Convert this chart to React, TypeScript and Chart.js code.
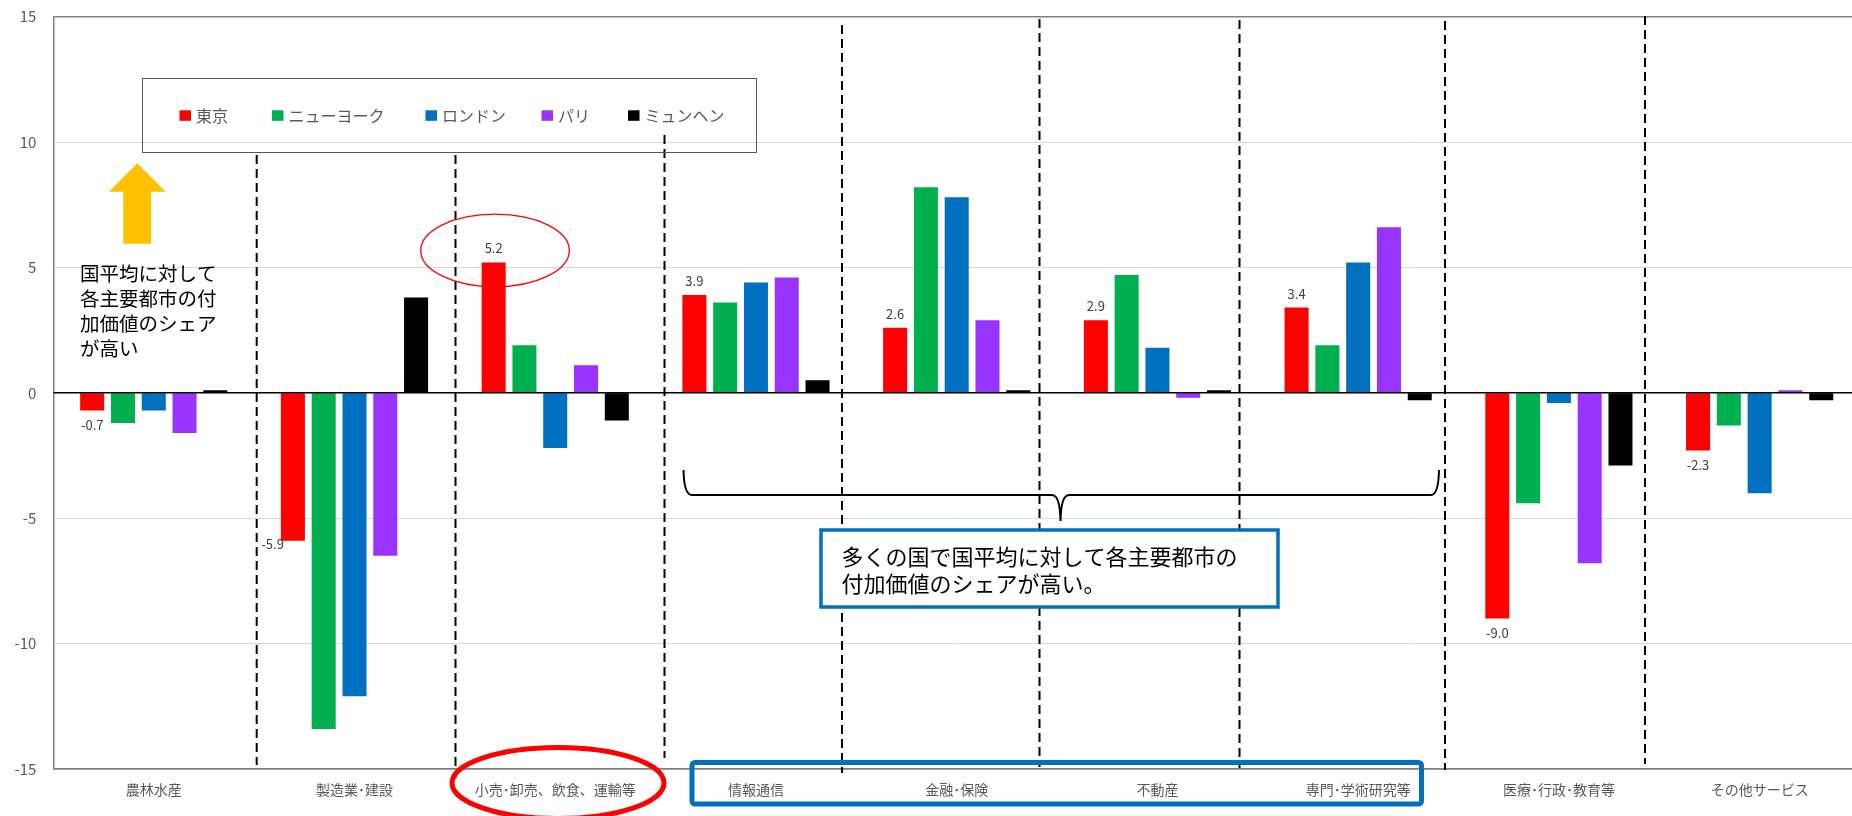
import React, { useEffect, useRef } from 'react';
import { Chart, registerables } from 'chart.js';

Chart.register(...registerables);

const FONT = '"Noto Sans CJK JP", "Noto Sans", sans-serif';

const categories = [
  '農林水産',
  '製造業･建設',
  '小売･卸売、飲食、運輸等',
  '情報通信',
  '金融･保険',
  '不動産',
  '専門･学術研究等',
  '医療･行政･教育等',
  'その他サービス',
];

const seriesNames = ['東京', 'ニューヨーク', 'ロンドン', 'パリ', 'ミュンヘン'];
const seriesColors = ['#FF0000', '#00B050', '#0070C0', '#9933FF', '#000000'];

const tokyo = [-0.7, -5.9, 5.2, 3.9, 2.6, 2.9, 3.4, -9.0, -2.3];
const newYork = [-1.2, -13.4, 1.9, 3.6, 8.2, 4.7, 1.9, -4.4, -1.3];
const london = [-0.7, -12.1, -2.2, 4.4, 7.8, 1.8, 5.2, -0.4, -4.0];
const paris = [-1.6, -6.5, 1.1, 4.6, 2.9, -0.2, 6.6, -6.8, 0.1];
const munich = [0.1, 3.8, -1.1, 0.5, 0.1, 0.1, -0.3, -2.9, -0.3];

const yMin = -15;
const yMax = 15;
const yStep = 5;

// where each Tokyo value label sits relative to its bar
const tokyoLabelPlacement = ['below', 'left', 'above', 'above', 'above', 'above', 'above', 'below', 'below'];

const leftNote = ['国平均に対して', '各主要都市の付', '加価値のシェア', 'が高い'];
const boxNote = ['多くの国で国平均に対して各主要都市の', '付加価値のシェアが高い。'];

// decoration layout (pixels)
const dividers: [number, number, number][] = [
  [256.7, 155, 765],
  [455.5, 155, 778],
  [664.5, 135, 758],
  [842, 25, 773],
  [1039.5, 19, 767],
  [1239.5, 20, 768],
  [1445, 21, 770],
  [1645, 16, 764],
];
const legendMarkerX = [179.5, 272, 425.5, 541.5, 628];

const decorPlugin = {
  id: 'decor',
  afterDatasetsDraw(chart: any) {
    const ctx: CanvasRenderingContext2D = chart.ctx;
    const area = chart.chartArea;
    const ys = chart.scales.y;
    ctx.save();

    // zero axis line
    const y0 = ys.getPixelForValue(0);
    ctx.strokeStyle = '#000000';
    ctx.lineWidth = 1.5;
    ctx.beginPath();
    ctx.moveTo(area.left, y0);
    ctx.lineTo(area.right, y0);
    ctx.stroke();

    // dashed dividers
    ctx.setLineDash([9, 5]);
    ctx.lineWidth = 2;
    ctx.strokeStyle = '#000000';
    dividers.forEach(([px, t, b]) => {
      ctx.beginPath();
      ctx.moveTo(px, t);
      ctx.lineTo(px, b);
      ctx.stroke();
    });
    ctx.setLineDash([]);

    // Tokyo value labels
    const meta = chart.getDatasetMeta(0);
    ctx.font = `13px ${FONT}`;
    ctx.fillStyle = '#404040';
    ctx.textBaseline = 'middle';
    meta.data.forEach((bar: any, i: number) => {
      const v = tokyo[i];
      const txt = v.toFixed(1);
      const place = tokyoLabelPlacement[i];
      if (place === 'left') {
        ctx.textAlign = 'right';
        ctx.fillText(txt, bar.x - bar.width / 2 + 3, bar.y + 3);
      } else if (place === 'above') {
        ctx.textAlign = 'center';
        ctx.fillText(txt, bar.x, bar.y - 14);
      } else {
        ctx.textAlign = 'center';
        ctx.fillText(txt, bar.x, bar.y + 15);
      }
    });

    // legend (in-plot, transparent box)
    ctx.strokeStyle = '#595959';
    ctx.lineWidth = 1;
    ctx.strokeRect(142.5, 78.5, 614, 74);
    ctx.font = `16px ${FONT}`;
    ctx.textAlign = 'left';
    ctx.textBaseline = 'middle';
    seriesNames.forEach((name, i) => {
      const mx = legendMarkerX[i];
      ctx.fillStyle = seriesColors[i];
      ctx.fillRect(mx, 110.3, 11.5, 10.5);
      ctx.fillStyle = '#595959';
      ctx.fillText(name, mx + 16.5, 116);
    });

    // yellow up arrow
    ctx.fillStyle = '#FFC000';
    ctx.beginPath();
    ctx.moveTo(137.3, 163.3);
    ctx.lineTo(165.7, 191.7);
    ctx.lineTo(151, 191.7);
    ctx.lineTo(151, 243.7);
    ctx.lineTo(123.3, 243.7);
    ctx.lineTo(123.3, 191.7);
    ctx.lineTo(109, 191.7);
    ctx.closePath();
    ctx.fill();

    // left note
    ctx.fillStyle = '#000000';
    ctx.font = `19.5px ${FONT}`;
    ctx.textAlign = 'left';
    leftNote.forEach((line, i) => ctx.fillText(line, 80, 274 + i * 24.8));

    // thin red ellipse around 5.2
    ctx.strokeStyle = '#FF0000';
    ctx.lineWidth = 1.3;
    ctx.beginPath();
    ctx.ellipse(495, 250.5, 74.3, 36.3, 0, 0, Math.PI * 2);
    ctx.stroke();

    // thick red ellipse around retail label
    ctx.lineWidth = 5;
    ctx.beginPath();
    ctx.ellipse(558, 783, 106, 35.5, 0, 0, Math.PI * 2);
    ctx.stroke();

    // blue rectangle around labels
    ctx.strokeStyle = '#0070C0';
    ctx.lineWidth = 5;
    ctx.beginPath();
    (ctx as any).roundRect(692, 762.5, 729.5, 41.5, 3);
    ctx.stroke();

    // curly brace
    ctx.strokeStyle = '#000000';
    ctx.lineWidth = 2;
    ctx.beginPath();
    ctx.moveTo(683.5, 470);
    ctx.quadraticCurveTo(684, 495, 692, 495);
    ctx.lineTo(1052, 495);
    ctx.quadraticCurveTo(1060, 495, 1060.5, 521);
    ctx.quadraticCurveTo(1061, 495, 1069, 495);
    ctx.lineTo(1431, 495);
    ctx.quadraticCurveTo(1438.5, 495, 1439, 470);
    ctx.stroke();

    // blue text box
    ctx.fillStyle = '#FFFFFF';
    ctx.fillRect(821, 530, 457, 77);
    ctx.strokeStyle = '#0070C0';
    ctx.lineWidth = 3.5;
    ctx.strokeRect(821, 530, 457, 77);
    ctx.fillStyle = '#000000';
    ctx.font = `22px ${FONT}`;
    ctx.textAlign = 'left';
    ctx.textBaseline = 'middle';
    boxNote.forEach((line, i) => ctx.fillText(line, 841.5, 557 + i * 26.6));

    ctx.restore();
  },
};

export default function App() {
  const canvasRef = useRef<HTMLCanvasElement | null>(null);

  useEffect(() => {
    document.body.style.overflow = 'hidden';
    const canvas = canvasRef.current;
    if (!canvas) return;
    const seriesData = [tokyo, newYork, london, paris, munich];
    const chart = new Chart(canvas, {
      type: 'bar',
      data: {
        labels: categories,
        datasets: seriesNames.map((name, i) => ({
          label: name,
          data: seriesData[i],
          backgroundColor: seriesColors[i],
          borderWidth: 0,
          categoryPercentage: 0.767,
          barPercentage: 0.78,
        })),
      },
      options: {
        animation: false,
        responsive: true,
        maintainAspectRatio: false,
        layout: { padding: { top: 16.7, left: 0, right: 0, bottom: 0 } },
        plugins: {
          legend: { display: false },
          tooltip: { enabled: false },
        },
        scales: {
          x: {
            grid: { display: false, drawTicks: false },
            border: { display: true, color: '#808080', width: 1.5 },
            ticks: {
              color: '#595959',
              font: { size: 14, family: FONT },
              padding: 12,
              maxRotation: 0,
              autoSkip: false,
            },
            afterFit: (s: any) => {
              s.height = 47;
              s.paddingLeft = 0;
              s.paddingRight = 0;
            },
          },
          y: {
            min: yMin,
            max: yMax,
            ticks: {
              stepSize: yStep,
              color: '#595959',
              font: { size: 15, family: FONT },
              padding: 17,
            },
            grid: {
              drawTicks: false,
              color: (c: any) => {
                const v = c.tick ? c.tick.value : 0;
                if (v === yMin || v === yMax) return '#808080';
                if (v === 0) return '#000000';
                return '#D9D9D9';
              },
              lineWidth: (c: any) => {
                const v = c.tick ? c.tick.value : 0;
                return v === yMin || v === yMax ? 1.5 : 1;
              },
            },
            border: { display: true, color: '#808080', width: 1.5 },
            afterFit: (s: any) => {
              s.width = 53.4;
              s.paddingTop = 0;
              s.paddingBottom = 0;
            },
          },
        },
      },
      plugins: [decorPlugin],
    } as any);
    return () => {
      chart.destroy();
    };
  }, []);

  return (
    <div style={{ position: 'fixed', left: 0, top: 0, width: 1860, height: 816, background: '#fff' }}>
      <canvas ref={canvasRef} />
    </div>
  );
}
